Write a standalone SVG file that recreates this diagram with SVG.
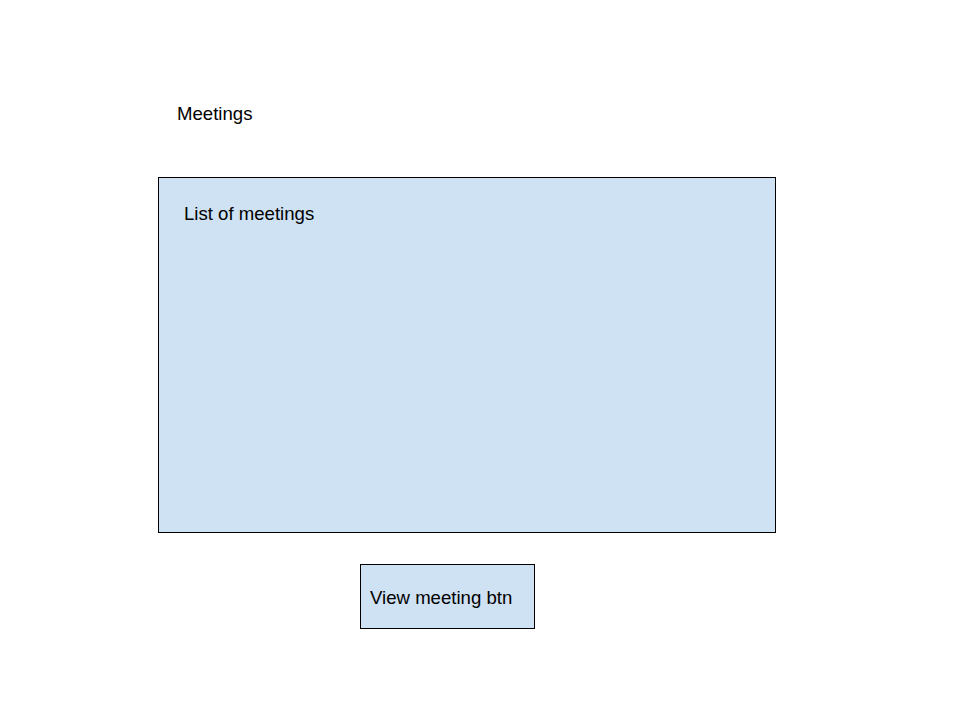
<svg xmlns="http://www.w3.org/2000/svg" width="960" height="720" viewBox="0 0 960 720">
<style>
.box{fill:#cfe2f3;stroke:#000;stroke-width:1}
.t{font-family:"Liberation Sans",Arial,sans-serif;font-size:18.6px;fill:#000}
</style>
<rect width="960" height="720" fill="#fff"/>
<g id="title"><text class="t" x="177" y="120">Meetings</text></g>
<g id="list"><rect class="box" x="158.5" y="177.5" width="617" height="355"/><text class="t" x="184" y="220">List of meetings</text></g>
<g id="btn"><rect class="box" x="360.5" y="564.5" width="174" height="64"/><text class="t" x="370" y="604">View meeting btn</text></g>
<g id="connectors"/>
</svg>
